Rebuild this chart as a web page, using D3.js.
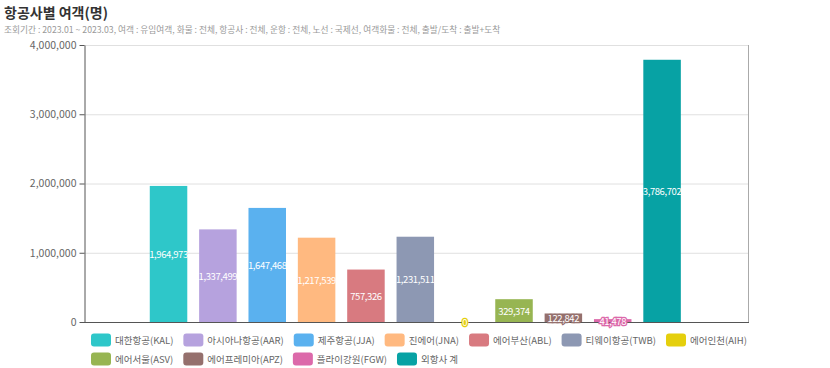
<!DOCTYPE html>
<html>
<head>
<meta charset="utf-8">
<script src="https://cdn.jsdelivr.net/npm/d3@7"></script>
<style>
  body { margin: 0; background: #fff; }
  svg text { font-family: "Noto Sans CJK KR", "Noto Sans", sans-serif; }
</style>
</head>
<body>
<div id="chart"></div>
<script>
// data
const airlines = ["대한항공(KAL)", "아시아나항공(AAR)", "제주항공(JJA)", "진에어(JNA)", "에어부산(ABL)",
  "티웨이항공(TWB)", "에어인천(AIH)", "에어서울(ASV)", "에어프레미아(APZ)", "플라이강원(FGW)", "외항사 계"];
const passengers = [1964973, 1337499, 1647468, 1217539, 757326, 1231511, 0, 329374, 122842, 41478, 3786702];
const colors = ["#2ec7c9", "#b6a2de", "#5ab1ef", "#ffb980", "#d87a80", "#8d98b3", "#e5cf0d",
  "#97b552", "#95706d", "#dc69aa", "#07a2a4"];
const yTicks = [0, 1000000, 2000000, 3000000, 4000000];

const title = "항공사별 여객(명)";
const subtitle = "조회기간 : 2023.01 ~ 2023.03, 여객 : 유임여객, 화물 : 전체, 항공사 : 전체, 운항 : 전체, 노선 : 국제선, 여객화물 : 전체, 출발/도착 : 출발+도착";

const width = 830;
const height = 368;
const plot = { left: 84, right: 748, top: 45, bottom: 322 };

const svg = d3.select("#chart")
  .append("svg")
  .attr("width", width)
  .attr("height", height);

// titles
svg.append("text")
  .attr("x", 4).attr("y", 18)
  .attr("font-size", "14px")
  .attr("font-weight", "bold")
  .attr("fill", "#333")
  .text(title);

svg.append("text")
  .attr("x", 4).attr("y", 33)
  .attr("font-size", "8.7px")
  .attr("fill", "#999")
  .text(subtitle);

const x = d3.scaleBand()
  .domain(airlines)
  .range([143.85, 686.75])
  .paddingInner(0.24)
  .paddingOuter(0.12);

const y = d3.scaleLinear()
  .domain([0, 4000000])
  .range([plot.bottom, plot.top]);

// grid
svg.append("g")
  .selectAll("line")
  .data(yTicks.slice(1))
  .enter()
  .append("line")
  .attr("x1", plot.left).attr("x2", plot.right)
  .attr("y1", d => y(d) + 0.5).attr("y2", d => y(d) + 0.5)
  .attr("stroke", "#e0e0e0");

// right border
svg.append("line")
  .attr("x1", plot.right + 0.5).attr("x2", plot.right + 0.5)
  .attr("y1", plot.top).attr("y2", plot.bottom)
  .attr("stroke", "#aaa");

// y axis
const yAxis = svg.append("g")
  .attr("transform", `translate(${plot.left + 0.5},0)`)
  .call(d3.axisLeft(y).tickValues(yTicks).tickSize(5).tickSizeOuter(0).tickFormat(d3.format(",")));
yAxis.select(".domain").attr("stroke", "#555");
yAxis.selectAll(".tick line").attr("stroke", "#555");
yAxis.selectAll(".tick text")
  .attr("font-size", "10.5px")
  .attr("fill", "#666")
  .attr("font-family", "\"Noto Sans CJK KR\", sans-serif");

// bars
svg.append("g")
  .selectAll("rect")
  .data(passengers)
  .enter()
  .append("rect")
  .attr("x", (d, i) => x(airlines[i]))
  .attr("y", d => y(d))
  .attr("width", x.bandwidth())
  .attr("height", d => y(0) - y(d))
  .attr("fill", (d, i) => colors[i]);

// x axis line
svg.append("line")
  .attr("x1", plot.left).attr("x2", plot.right + 1)
  .attr("y1", plot.bottom + 0.5).attr("y2", plot.bottom + 0.5)
  .attr("stroke", "#555");

// value labels (small bars get an outline in the bar colour)
svg.append("g")
  .selectAll("text")
  .data(passengers)
  .enter()
  .append("text")
  .attr("x", (d, i) => x(airlines[i]) + x.bandwidth() / 2)
  .attr("y", d => (y(d) + y(0)) / 2)
  .attr("text-anchor", "middle")
  .attr("dominant-baseline", "central")
  .attr("font-size", "9.5px")
  .attr("letter-spacing", "-0.4px")
  .attr("fill", "#fff")
  .attr("stroke", (d, i) => (y(0) - y(d) < 14 ? colors[i] : "none"))
  .attr("stroke-width", 2.5)
  .attr("paint-order", "stroke")
  .text(d => d3.format(",")(d));

// legend
const legend = svg.append("g");
let lx = 91, ly = 340;
const maxX = 775;
airlines.forEach((name, i) => {
  const item = legend.append("g");
  item.append("rect")
    .attr("width", 20).attr("height", 13)
    .attr("rx", 3).attr("ry", 3)
    .attr("fill", colors[i]);
  const t = item.append("text")
    .attr("x", 24).attr("y", 6.5)
    .attr("dominant-baseline", "central")
    .attr("font-size", "9.5px")
    .attr("fill", "#666")
    .text(name);
  const w = 24 + t.node().getComputedTextLength();
  if (lx + w > maxX) { lx = 91; ly += 19; }
  item.attr("transform", `translate(${lx},${ly - 6.5})`);
  lx += w + 10;
});
</script>
</body>
</html>
